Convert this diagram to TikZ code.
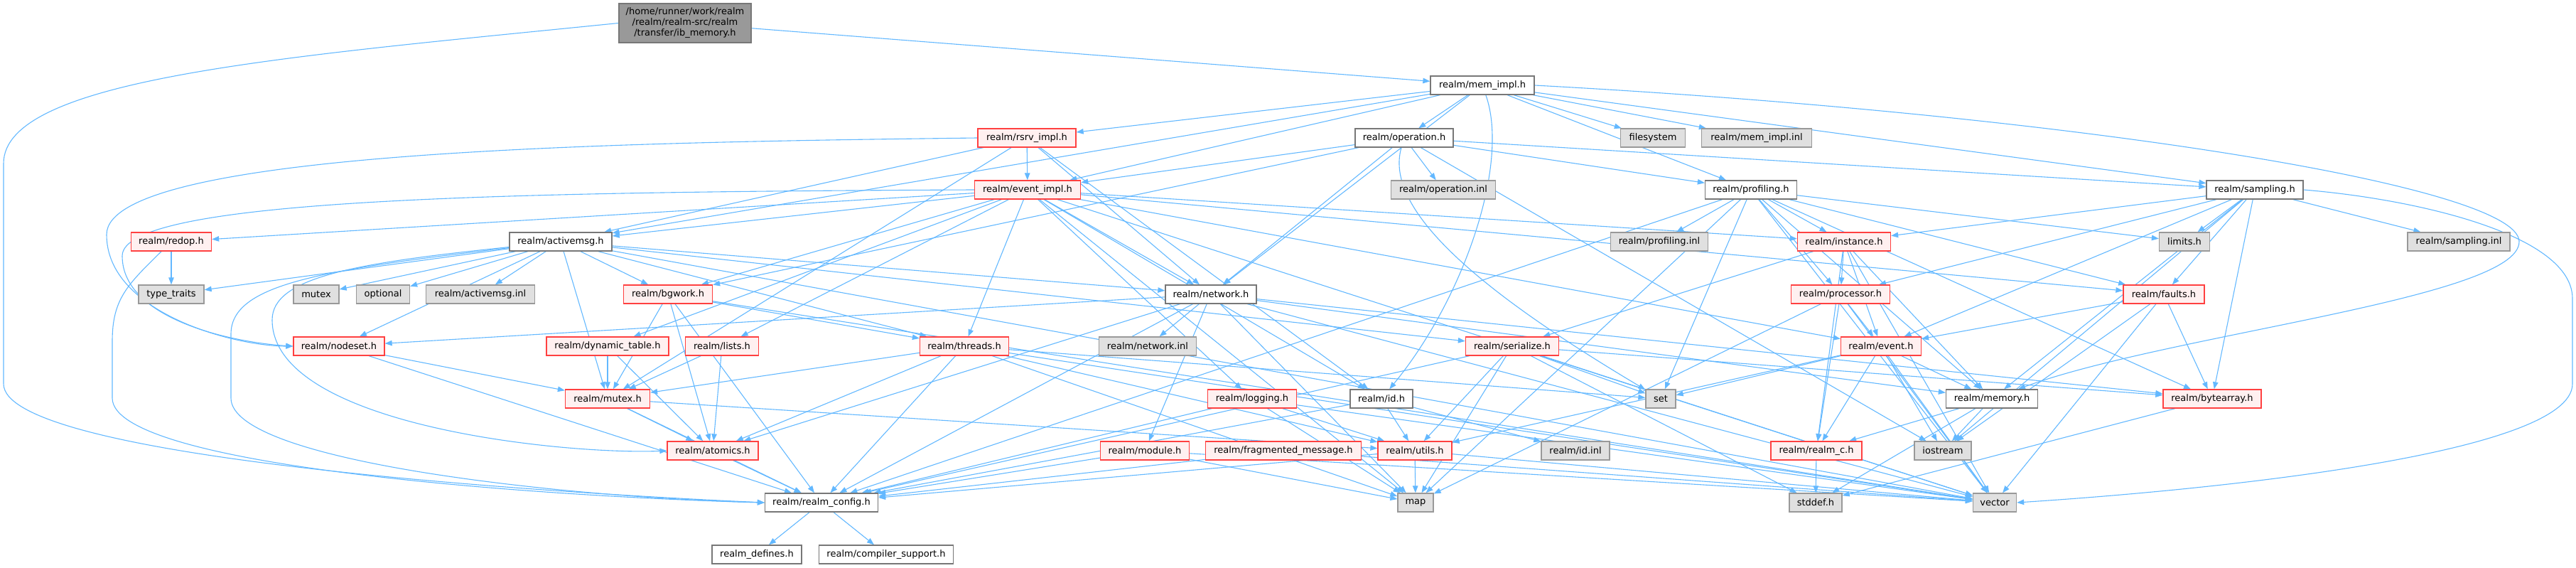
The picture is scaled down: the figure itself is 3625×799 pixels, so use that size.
\documentclass[tikz,border=0pt]{standalone}
\usepackage{fontspec}
\setmainfont{DejaVu Sans}
\usetikzlibrary{arrows.meta}
\definecolor{edgec}{RGB}{99,184,255}
\definecolor{redc}{RGB}{255,64,64}
\definecolor{redf}{RGB}{255,240,240}
\definecolor{grayf}{RGB}{224,224,224}
\definecolor{graym}{RGB}{153,153,153}
\definecolor{grayd}{RGB}{119,119,119}
\definecolor{rootf}{RGB}{153,153,153}
\pgfdeclarelayer{bg}
\pgfsetlayers{bg,main}
\tikzset{
  base/.style={draw, line width=1.3pt, minimum height=26pt, inner sep=0pt, text=black, font=\fontsize{13}{15}\selectfont},
  rb/.style={base, draw=redc, fill=redf},
  wb/.style={base, draw=grayd, fill=white},
  gb/.style={base, draw=graym, fill=grayf},
  rootbox/.style={base, draw=grayd, fill=rootf, minimum height=55pt, align=center},
  dep/.style={draw=edgec, line width=1.1pt, -{Triangle[length=10pt,width=7.5pt]}},
}
\begin{document}
\begin{tikzpicture}[x=1pt,y=-1pt]
\useasboundingbox (0,0) rectangle (3625,799);
\node[rootbox, minimum width=186pt] (root) at (964,32.5) {/home/runner/work/realm\\/realm/realm-src/realm\\/transfer/ib\_memory.h};
\node[wb, minimum width=146pt] (memimpl) at (2086,120) {realm/mem\_impl.h};
\node[rb, minimum width=138pt] (rsrv) at (1445,194) {realm/rsrv\_impl.h};
\node[wb, minimum width=138pt] (operation) at (1976,194) {realm/operation.h};
\node[gb, minimum width=91pt] (filesystem) at (2326,194) {filesystem};
\node[gb, minimum width=155pt] (memimplinl) at (2472,194) {realm/mem\_impl.inl};
\node[rb, minimum width=149pt] (eventimpl) at (1446,267) {realm/event\_impl.h};
\node[gb, minimum width=147pt] (operationinl) at (2031,267) {realm/operation.inl};
\node[wb, minimum width=129pt] (profiling) at (2464,267) {realm/profiling.h};
\node[wb, minimum width=136pt] (sampling) at (3173,267) {realm/sampling.h};
\node[rb, minimum width=113pt] (redop) at (241,340) {realm/redop.h};
\node[wb, minimum width=144pt] (activemsg) at (789,340) {realm/activemsg.h};
\node[gb, minimum width=137pt] (profilinginl) at (2335,340) {realm/profiling.inl};
\node[rb, minimum width=131pt] (instance) at (2595,340) {realm/instance.h};
\node[gb, minimum width=71pt] (limits) at (3074,340) {limits.h};
\node[gb, minimum width=144pt] (samplinginl) at (3460,340) {realm/sampling.inl};
\node[gb, minimum width=92pt] (typetraits) at (241,414) {type\_traits};
\node[gb, minimum width=64pt] (mutexstd) at (445,414) {mutex};
\node[gb, minimum width=75pt] (optional) at (539,414) {optional};
\node[gb, minimum width=153pt] (activemsginl) at (676,414) {realm/activemsg.inl};
\node[rb, minimum width=125pt] (bgwork) at (940,414) {realm/bgwork.h};
\node[wb, minimum width=128pt] (network) at (1704,414) {realm/network.h};
\node[rb, minimum width=139pt] (processor) at (2590,414) {realm/processor.h};
\node[rb, minimum width=114pt] (faults) at (3045,414) {realm/faults.h};
\node[rb, minimum width=128pt] (nodeset) at (477,487) {realm/nodeset.h};
\node[rb, minimum width=172pt] (dyntable) at (855,487) {realm/dynamic\_table.h};
\node[rb, minimum width=103pt] (lists) at (1016,487) {realm/lists.h};
\node[rb, minimum width=125pt] (threads) at (1357,487) {realm/threads.h};
\node[gb, minimum width=137pt] (networkinl) at (1615,487) {realm/network.inl};
\node[rb, minimum width=131pt] (serialize) at (2128,487) {realm/serialize.h};
\node[rb, minimum width=113pt] (event) at (2647,487) {realm/event.h};
\node[rb, minimum width=119pt] (mutexh) at (855,561) {realm/mutex.h};
\node[rb, minimum width=125pt] (logging) at (1762,561) {realm/logging.h};
\node[wb, minimum width=88pt] (id) at (1944,561) {realm/id.h};
\node[gb, minimum width=42pt] (set) at (2337,561) {set};
\node[wb, minimum width=129pt] (memory) at (2803,561) {realm/memory.h};
\node[rb, minimum width=138pt] (bytearray) at (3113,561) {realm/bytearray.h};
\node[rb, minimum width=128pt] (atomics) at (1003,634) {realm/atomics.h};
\node[rb, minimum width=125pt] (module) at (1611,634) {realm/module.h};
\node[rb, minimum width=219pt] (fragmsg) at (1806,634) {realm/fragmented\_message.h};
\node[rb, minimum width=104pt] (utils) at (1991,634) {realm/utils.h};
\node[gb, minimum width=96pt] (idinl) at (2217,634) {realm/id.inl};
\node[rb, minimum width=128pt] (realmc) at (2556,634) {realm/realm\_c.h};
\node[gb, minimum width=80pt] (iostream) at (2734,634) {iostream};
\node[wb, minimum width=159pt] (config) at (1156,707) {realm/realm\_config.h};
\node[gb, minimum width=50pt] (map) at (1992,707) {map};
\node[gb, minimum width=74pt] (stddef) at (2555,707) {stddef.h};
\node[gb, minimum width=61pt] (vector) at (2807,707) {vector};
\node[wb, minimum width=126pt] (defines) at (1065,780) {realm\_defines.h};
\node[wb, minimum width=189pt] (compiler) at (1247,780) {realm/compiler\_support.h};

\begin{pgfonlayer}{bg}
\foreach \s/\t in {root/memimpl,
 memimpl/operation, memimpl/rsrv, memimpl/eventimpl, memimpl/activemsg, memimpl/network, memimpl/profiling, memimpl/filesystem, memimpl/memimplinl, memimpl/sampling,
 rsrv/eventimpl, rsrv/mutexh, rsrv/network, rsrv/id, rsrv/activemsg,
 operation/eventimpl, operation/operationinl, operation/profiling, operation/sampling, operation/bgwork, operation/network, operation/iostream,
 eventimpl/instance, eventimpl/id, eventimpl/event, eventimpl/network, eventimpl/faults, eventimpl/activemsg, eventimpl/lists, eventimpl/threads, eventimpl/logging, eventimpl/redop, eventimpl/bgwork, eventimpl/dyntable, eventimpl/vector, eventimpl/map,
 profiling/profilinginl, profiling/instance, profiling/bytearray, profiling/processor, profiling/memory, profiling/faults, profiling/limits, profiling/vector, profiling/set, profiling/map, profiling/config,
 sampling/samplinginl, sampling/limits, sampling/bytearray, sampling/memory, sampling/processor, sampling/instance, sampling/faults, sampling/event, sampling/iostream,
 activemsg/typetraits, activemsg/mutexstd, activemsg/optional, activemsg/activemsginl, activemsg/nodeset, activemsg/mutexh, activemsg/bgwork, activemsg/network, activemsg/threads, activemsg/serialize, activemsg/vector,
 redop/typetraits,
 bgwork/mutexh, bgwork/atomics, bgwork/threads, bgwork/config, bgwork/vector,
 network/config, network/module, network/nodeset, network/memory, network/bytearray, network/networkinl, network/map, network/atomics, network/vector,
 processor/realmc, processor/event, processor/vector, processor/map,
 faults/event, faults/bytearray, faults/iostream, faults/vector,
 instance/serialize, instance/realmc, instance/processor, instance/event, instance/memory, instance/vector,
 nodeset/mutexh, nodeset/config,
 dyntable/mutexh, dyntable/atomics,
 lists/atomics, lists/mutexh,
 threads/atomics, threads/mutexh, threads/config, threads/utils, threads/map, threads/vector, threads/set,
 mutexh/config, mutexh/atomics, mutexh/utils,
 atomics/config,
 logging/config, logging/utils, logging/vector, logging/map,
 id/idinl, id/utils, id/config,
 module/config, module/vector, module/map,
 fragmsg/config, fragmsg/vector,
 utils/config, utils/map, utils/vector,
 serialize/utils, serialize/set, serialize/stddef, serialize/vector, serialize/map, serialize/bytearray, serialize/config,
 event/set, event/realmc, event/memory, event/iostream, event/vector, event/utils,
 memory/realmc, memory/iostream, memory/stddef,
 bytearray/stddef, realmc/stddef,
 config/defines, config/compiler}
 \draw[dep] (\s) -- (\t);
\draw[dep] (root.west) .. controls (400,80) and (5,110) .. (5,230) -- (5,540) .. controls (5,640) and (700,690) .. (config.west);
\draw[dep] (redop) .. controls (180,400) and (158,420) .. (158,480) -- (158,560) .. controls (158,660) and (800,700) .. (config.west);
\draw[dep] (activemsg) .. controls (450,380) and (325,400) .. (325,470) -- (325,560) .. controls (325,650) and (800,700) .. (config.west);
\draw[dep] (activemsg) .. controls (500,370) and (383,390) .. (383,450) .. controls (383,600) and (800,640) .. (atomics.west);
\draw[dep] (rsrv.west) .. controls (900,200) and (150,210) .. (150,330) .. controls (150,440) and (330,487) .. (nodeset.west);
\draw[dep] (eventimpl.west) .. controls (700,270) and (172,280) .. (172,360) .. controls (172,450) and (330,482) .. (nodeset.west);
\draw[dep] (sampling.east) .. controls (3400,280) and (3620,330) .. (3620,420) -- (3620,540) .. controls (3620,640) and (3100,690) .. (vector.east);
\draw[dep] (memimpl.east) .. controls (2900,160) and (3545,260) .. (3545,340) .. controls (3545,420) and (3050,470) .. (memory);
\draw[dep] (memimpl) .. controls (2125,230) and (2060,420) .. (id);
\draw[dep] (operation) .. controls (1945,300) and (2100,420) .. (set);
\end{pgfonlayer}
\end{tikzpicture}
\end{document}
